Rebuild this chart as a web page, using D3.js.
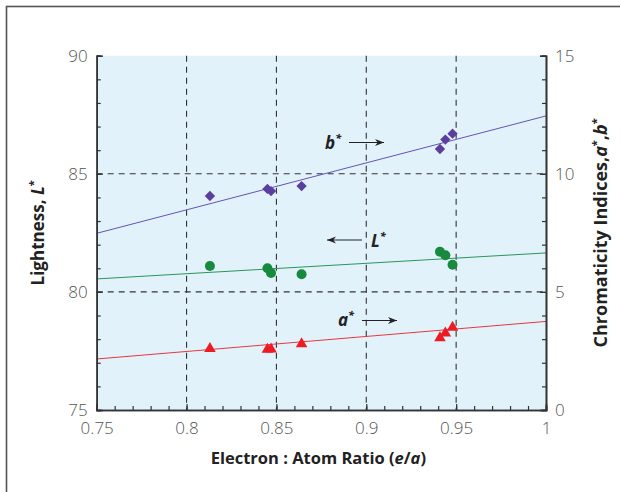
<!DOCTYPE html>
<html>
<head>
<meta charset="utf-8">
<script src="https://cdn.jsdelivr.net/npm/d3@7/dist/d3.min.js"></script>
<style>
  html, body { margin: 0; padding: 0; background: #fff; }
  svg { display: block; }
  text { font-family: "Open Sans", "Noto Sans", sans-serif; }
</style>
</head>
<body>
<svg id="chart" width="620" height="492"></svg>
<script>
// Electron : atom ratio of each alloy sample
const ea = [0.813, 0.845, 0.847, 0.864, 0.941, 0.944, 0.948];
// Lightness L* (left axis)
const lightness = [81.1, 81.0, 80.8, 80.75, 81.7, 81.55, 81.15];
// Chromaticity indices (right axis)
const aStar = [2.6, 2.56, 2.58, 2.8, 3.05, 3.25, 3.5];
const bStar = [9.06, 9.36, 9.27, 9.48, 11.05, 11.45, 11.7];
// Linear trend lines, evaluated at the ends of the e/a range
const fitX = [0.75, 1.0];
const fitL = [80.55, 81.65];
const fitA = [2.16, 3.75];
const fitB = [7.48, 12.45];
// Tick labels
const xTicks = [0.75, 0.8, 0.85, 0.9, 0.95, 1];
const lTicks = [75, 80, 85, 90];
const cTicks = [0, 5, 10, 15];

const svg = d3.select("#chart");
const pLeft = 96.7, pRight = 546, pTop = 55.7, pBottom = 410;

const x = d3.scaleLinear().domain([0.75, 1]).range([pLeft, pRight]);
const yL = d3.scaleLinear().domain([75, 90]).range([pBottom, pTop]);
const yC = d3.scaleLinear().domain([0, 15]).range([pBottom, pTop]);

// outer frame
svg.append("rect")
  .attr("x", 6.5).attr("y", 6.5).attr("width", 700).attr("height", 600)
  .attr("fill", "none").attr("stroke", "#555").attr("stroke-width", 1.6);

// plot background
svg.append("rect")
  .attr("x", pLeft).attr("y", pTop)
  .attr("width", pRight - pLeft).attr("height", pBottom - pTop)
  .attr("fill", "#e1f2fb");

// dashed grid
const grid = svg.append("g").attr("stroke", "#333").attr("stroke-width", 1.1)
  .attr("stroke-dasharray", "6,5");
[0.8, 0.85, 0.9, 0.95].forEach(v => {
  grid.append("line").attr("x1", x(v)).attr("x2", x(v))
    .attr("y1", pTop).attr("y2", pBottom);
});
[80, 85].forEach(v => {
  grid.append("line").attr("x1", pLeft).attr("x2", pRight)
    .attr("y1", yL(v)).attr("y2", yL(v));
});

// trend lines
const line = (ys, scale) => d3.line()
  .x((d, i) => x(fitX[i])).y(d => scale(d))(ys);
svg.append("path").attr("d", line(fitB, yC)).attr("fill", "none")
  .attr("stroke", "#6652b8").attr("stroke-width", 1);
svg.append("path").attr("d", line(fitL, yL)).attr("fill", "none")
  .attr("stroke", "#2a9658").attr("stroke-width", 1);
svg.append("path").attr("d", line(fitA, yC)).attr("fill", "none")
  .attr("stroke", "#e8383c").attr("stroke-width", 1);

// markers
svg.append("g").selectAll("path").data(bStar).join("path")
  .attr("d", d3.symbol(d3.symbolDiamond2, 68))
  .attr("transform", (d, i) => `translate(${x(ea[i])},${yC(d)})`)
  .attr("fill", "#5b3e9e");
svg.append("g").selectAll("circle").data(lightness).join("circle")
  .attr("cx", (d, i) => x(ea[i])).attr("cy", d => yL(d)).attr("r", 5)
  .attr("fill", "#178a3e");
svg.append("g").selectAll("path").data(aStar).join("path")
  .attr("d", d3.symbol(d3.symbolTriangle, 58))
  .attr("transform", (d, i) => `translate(${x(ea[i])},${yC(d)})`)
  .attr("fill", "#ec1c24");

// axes
function styleAxis(g) {
  g.attr("font-size", null).attr("font-family", null);
  g.select(".domain").attr("stroke", "#333").attr("stroke-width", 1.6);
  g.selectAll(".tick line").attr("stroke", "#333").attr("stroke-width", 1.2);
  g.selectAll("text").attr("fill", "#555")
    .style("font-size", "17px").style("font-weight", "300")
    .style("font-family", '"Open Sans", sans-serif');
}
const minorX = d3.range(0, 26).map(i => 0.75 + i * 0.01);
const minorY = d3.range(0, 16);

svg.append("g").attr("transform", `translate(0,${pBottom})`)
  .call(d3.axisBottom(x).tickValues(minorX).tickSize(-4).tickFormat(""))
  .call(styleAxis);
svg.append("g").attr("transform", `translate(0,${pBottom})`)
  .call(d3.axisBottom(x).tickValues(xTicks).tickSize(-6).tickPadding(12)
    .tickFormat(d3.format("")))
  .call(styleAxis);

svg.append("g").attr("transform", `translate(${pLeft},0)`)
  .call(d3.axisLeft(yL).tickValues(minorY.map(i => 75 + i)).tickSize(-4).tickFormat(""))
  .call(styleAxis);
svg.append("g").attr("transform", `translate(${pLeft},0)`)
  .call(d3.axisLeft(yL).tickValues(lTicks).tickSize(-6).tickPadding(9))
  .call(styleAxis);

svg.append("g").attr("transform", `translate(${pRight},0)`)
  .call(d3.axisRight(yC).tickValues(minorY).tickSize(-4).tickFormat(""))
  .call(styleAxis);
svg.append("g").attr("transform", `translate(${pRight},0)`)
  .call(d3.axisRight(yC).tickValues(cTicks).tickSize(-6).tickPadding(9))
  .call(styleAxis);

// axis titles
const xt = svg.append("text").attr("x", (pLeft + pRight) / 2 - 3).attr("y", 464)
  .attr("text-anchor", "middle").style("font-size", "16.5px").attr("font-weight", 700)
  .attr("fill", "#222");
xt.append("tspan").text("Electron : Atom Ratio (");
xt.append("tspan").attr("font-style", "italic").text("e");
xt.append("tspan").text("/");
xt.append("tspan").attr("font-style", "italic").text("a");
xt.append("tspan").text(")");

const lt = svg.append("text")
  .attr("transform", `translate(44,${(pTop + pBottom) / 2}) rotate(-90)`)
  .attr("text-anchor", "middle").style("font-size", "17px").attr("font-weight", 700)
  .attr("fill", "#222");
lt.append("tspan").text("Lightness, ");
lt.append("tspan").attr("font-style", "italic").text("L");
lt.append("tspan").style("font-size", "11px").attr("dy", -7).text("*");

const rt = svg.append("text")
  .attr("transform", `translate(607,${(pTop + pBottom) / 2}) rotate(-90)`)
  .attr("text-anchor", "middle").style("font-size", "18px").attr("font-weight", 700)
  .attr("fill", "#222");
rt.append("tspan").text("Chromaticity Indices,");
rt.append("tspan").attr("font-style", "italic").text("a");
rt.append("tspan").style("font-size", "11px").attr("dy", -7).text("*");
rt.append("tspan").attr("dy", 7).text(",");
rt.append("tspan").attr("font-style", "italic").text("b");
rt.append("tspan").style("font-size", "11px").attr("dy", -7).text("*");

// series annotations with arrows
svg.append("defs").append("marker")
  .attr("id", "head").attr("viewBox", "0 0 10 10")
  .attr("refX", 10).attr("refY", 5)
  .attr("markerWidth", 9).attr("markerHeight", 9)
  .attr("markerUnits", "userSpaceOnUse").attr("orient", "auto")
  .append("path").attr("d", "M0,1 L10,5 L0,9 L3,5 Z").attr("fill", "#222");

function label(txt, tx, ty, x1, x2, ay) {
  const t = svg.append("text").attr("x", tx).attr("y", ty)
    .style("font-size", "17px").attr("font-weight", 700).attr("font-style", "italic")
    .attr("fill", "#222");
  t.append("tspan").text(txt);
  t.append("tspan").style("font-size", "11px").attr("dy", -7).text("*");
  svg.append("line").attr("x1", x1).attr("x2", x2).attr("y1", ay).attr("y2", ay)
    .attr("stroke", "#222").attr("stroke-width", 1.2).attr("marker-end", "url(#head)");
}
label("b", 325, 149, 349, 384, 142.5);
label("L", 371, 247, 362, 327, 240);
label("a", 338, 326, 362, 397, 320.5);
</script>
</body>
</html>
